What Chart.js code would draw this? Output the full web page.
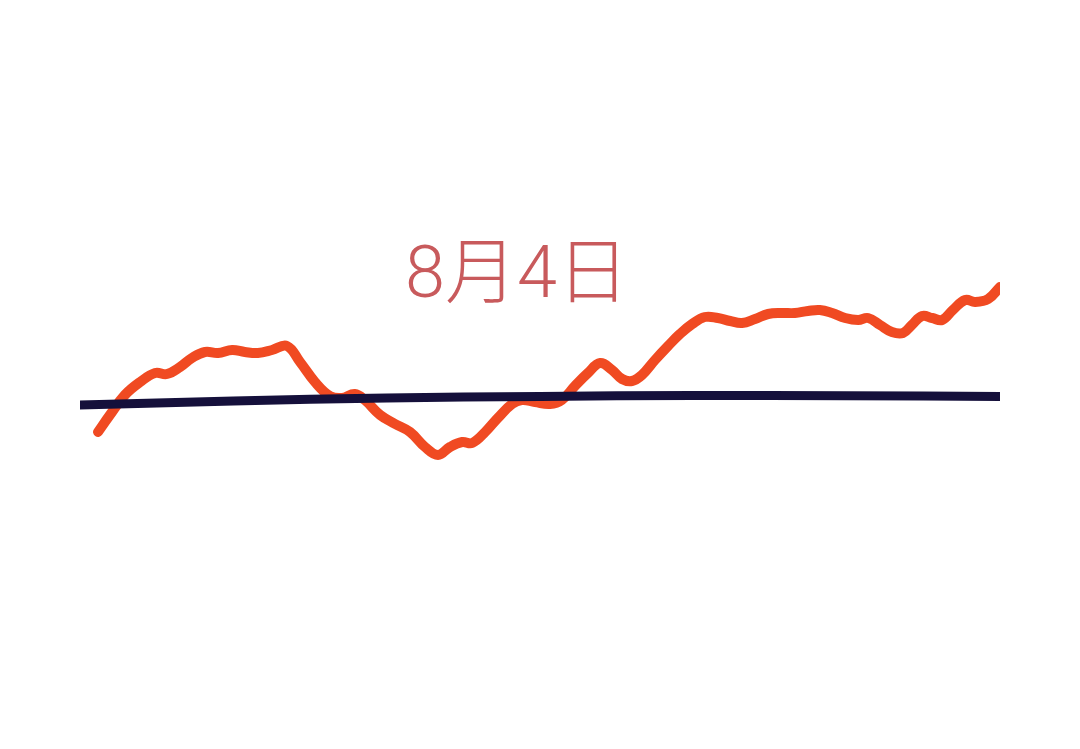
<!DOCTYPE html>
<html>
<head>
<meta charset="utf-8">
<script src="https://cdn.jsdelivr.net/npm/chart.js@4/dist/chart.umd.min.js"></script>
<style>
  body { margin: 0; background: #fff; }
  canvas { display: block; }
</style>
</head>
<body>
<canvas id="myChart" width="1080" height="749"></canvas>
<script>
// 分時データ (分, %)
var times = [4.7, 7.8, 11.7, 15.7, 19.6, 22.7, 26.1, 29.2, 32.6, 36.0, 39.7, 43.0, 46.4, 50.1, 54.0,
    57.4, 61.3, 65.2, 68.3, 71.7, 74.3, 78.3, 82.2, 86.1, 90.0, 93.4, 96.5, 99.7, 102.3, 105.7,
    109.0, 112.7, 115.3, 118.7, 122.6, 125.7, 129.1, 132.5, 135.7, 138.8, 141.4, 144.0, 146.6,
    150.0, 153.4, 156.5, 159.7, 163.0, 166.4, 169.6, 172.7, 176.1, 179.5, 183.1, 186.5, 189.9,
    193.0, 196.2, 199.6, 203.0, 205.6, 208.7, 211.8, 214.7, 217.0, 219.7, 222.3, 224.9, 227.7,
    230.9, 233.5, 236.9, 240];
var prices = [-0.64, -0.30, 0.10, 0.36, 0.54, 0.52, 0.66, 0.84, 0.96, 0.94, 1.00, 0.96, 0.94, 1.00, 1.08,
    0.76, 0.36, 0.08, 0.04, 0.12, 0.00, -0.30, -0.48, -0.64, -0.94, -1.10, -0.94, -0.84, -0.86, -0.64,
    -0.36, -0.08, 0.00, -0.04, -0.08, 0.00, 0.28, 0.54, 0.74, 0.60, 0.42, 0.38, 0.50,
    0.80, 1.08, 1.32, 1.52, 1.66, 1.64, 1.58, 1.54, 1.62, 1.72, 1.74, 1.74, 1.78,
    1.80, 1.74, 1.64, 1.60, 1.64, 1.50, 1.36, 1.34, 1.50, 1.68, 1.64, 1.60, 1.80,
    2.00, 1.96, 2.02, 2.26];
var avgTimes = [0, 40, 80, 120, 160, 200, 240];
var avgPrices = [-0.10, -0.02, 0.04, 0.07, 0.09, 0.085, 0.07];
var dateLabel = '8月4日';

function toPoints(xs, ys) {
    return xs.map(function (x, i) { return { x: x, y: ys[i] }; });
}

Chart.register({
    id: 'dateText',
    afterDraw: function (chart) {
        var ctx = chart.ctx;
        ctx.save();
        ctx.font = '300 72px Roboto, "Noto Sans CJK SC", sans-serif';
        ctx.fillStyle = '#c85a5c';
        ctx.textAlign = 'center';
        ctx.textBaseline = 'middle';
        ctx.fillText(dateLabel, 517, 279);
        ctx.restore();
    }
});

var ctx = document.getElementById('myChart').getContext('2d');
var chart = new Chart(ctx, {
    type: 'line',
    data: {
        datasets: [{
            data: toPoints(avgTimes, avgPrices),
            borderColor: '#15103b',
            borderWidth: 9,
            borderCapStyle: 'round',
            tension: 0.4,
            pointRadius: 0
        }, {
            data: toPoints(times, prices),
            borderColor: '#f04a22',
            borderWidth: 10,
            borderCapStyle: 'round',
            borderJoinStyle: 'round',
            tension: 0.4,
            pointRadius: 0
        }]
    },
    options: {
        responsive: false,
        animation: false,
        layout: { padding: { left: 80, right: 80, top: 0, bottom: 49 } },
        plugins: { legend: { display: false }, tooltip: { enabled: false } },
        scales: {
            x: { type: 'linear', min: 0, max: 240, display: false },
            y: { min: -6, max: 8, display: false }
        }
    }
});
</script>
</body>
</html>
